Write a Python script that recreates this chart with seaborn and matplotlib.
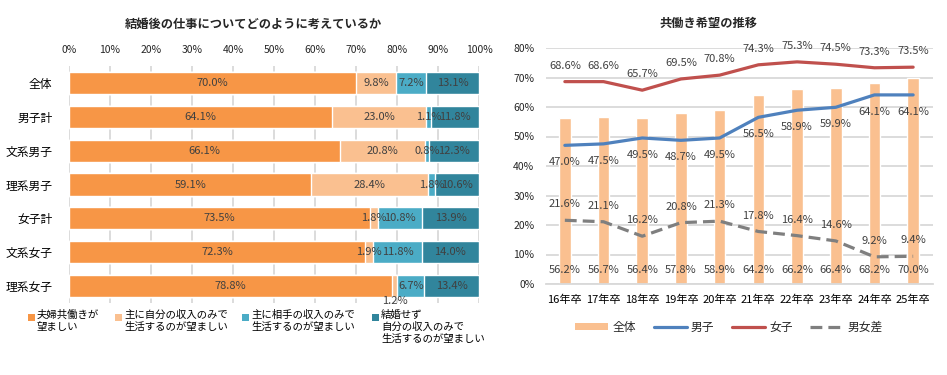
import numpy as np
import seaborn as sns
import matplotlib.pyplot as plt
from matplotlib.patches import Patch, Rectangle
from matplotlib.lines import Line2D
from matplotlib.ticker import PercentFormatter

sns.set_theme(style='white')
plt.rcParams['font.family'] = ['Noto Sans CJK JP', 'DejaVu Sans']

# 左：結婚後の仕事についてどのように考えているか
groups = ['全体', '男子計', '文系男子', '理系男子', '女子計', '文系女子', '理系女子']
tomobataraki = [70.0, 64.1, 66.1, 59.1, 73.5, 72.3, 78.8]
jibun_nomi = [9.8, 23.0, 20.8, 28.4, 1.8, 1.9, 1.2]
aite_nomi = [7.2, 1.1, 0.8, 1.8, 10.8, 11.8, 6.7]
kekkon_sezu = [13.1, 11.8, 12.3, 10.6, 13.9, 14.0, 13.4]
left_labels = ['夫婦共働きが\n望ましい',
               '主に自分の収入のみで\n生活するのが望ましい',
               '主に相手の収入のみで\n生活するのが望ましい',
               '結婚せず\n自分の収入のみで\n生活するのが望ましい']
left_colors = ['#F79646', '#FAC090', '#4BACC6', '#31859C']

# 右：共働き希望の推移
years = ['16年卒', '17年卒', '18年卒', '19年卒', '20年卒',
         '21年卒', '22年卒', '23年卒', '24年卒', '25年卒']
zentai = [56.2, 56.7, 56.4, 57.8, 58.9, 64.2, 66.2, 66.4, 68.2, 70.0]
danshi = [47.0, 47.5, 49.5, 48.7, 49.5, 56.5, 58.9, 59.9, 64.1, 64.1]
joshi = [68.6, 68.6, 65.7, 69.5, 70.8, 74.3, 75.3, 74.5, 73.3, 73.5]
danjo_sa = [21.6, 21.1, 16.2, 20.8, 21.3, 17.8, 16.4, 14.6, 9.2, 9.4]

W, H = 947, 375
fig = plt.figure(figsize=(W / 100, H / 100), dpi=100)
grid_c = '#D9D9D9'
txt_c = '#404040'

# ---------- 左のグラフ ----------
ax1 = fig.add_axes([69 / W, 1 - 303 / H, 410 / W, 237 / H])
series = np.array([tomobataraki, jibun_nomi, aite_nomi, kekkon_sezu])
cum = np.cumsum(series, axis=0)
for k in range(3, -1, -1):
    sns.barplot(x=cum[k], y=groups, orient='h', color=left_colors[k],
                width=0.65, saturation=1, ax=ax1, zorder=2)

for k in range(4):
    for i in range(len(groups)):
        v = series[k, i]
        xc = cum[k, i] - v / 2
        yc = i
        if groups[i] == '理系女子' and k == 1:
            yc = i + 0.45
        ax1.text(xc, yc, f'{v:.1f}%', ha='center', va='center',
                 fontsize=8, color=txt_c, zorder=5)

ax1.set_xlim(0, 100)
ax1.set_ylim(6.5, -0.5)
ax1.xaxis.tick_top()
ax1.set_xticks(range(0, 101, 10))
ax1.xaxis.set_major_formatter(PercentFormatter(100, decimals=0))
ax1.grid(axis='x', color=grid_c, lw=1.3, zorder=0)
ax1.set_axisbelow(True)
for s in ax1.spines.values():
    s.set_visible(False)
ax1.tick_params(axis='x', length=0, pad=8, labelsize=7.5, colors='#262626')
ax1.tick_params(axis='y', length=0, pad=12, labelsize=8.5, colors='#000000')
ax1.set_xlabel('')
ax1.set_ylabel('')

fig.text(253 / W, 1 - 24 / H, '結婚後の仕事についてどのように考えているか',
         ha='center', va='center', fontsize=8.8, fontweight='bold')

# 左の凡例
sq_x = [28, 115, 242, 372]
for k in range(4):
    fig.add_artist(Rectangle((sq_x[k] / W, 1 - 321 / H), 7 / W, 7 / H,
                             transform=fig.transFigure,
                             facecolor=left_colors[k], edgecolor='none'))
    fig.text((sq_x[k] + 9) / W, 1 - 310 / H, left_labels[k], ha='left',
             va='top', fontsize=7.5, linespacing=1.25, color='#000000')

# ---------- 右のグラフ ----------
ax2 = fig.add_axes([545.5 / W, 1 - 284 / H, 387 / W, 236 / H])
x = np.arange(len(years))
sns.barplot(x=years, y=zentai, color='#FAC090', width=0.3,
            saturation=1, ax=ax2, zorder=2)
sns.lineplot(x=x, y=danshi, color='#4F81BD', lw=2.3, ax=ax2, zorder=3)
sns.lineplot(x=x, y=joshi, color='#C0504D', lw=2.3, ax=ax2, zorder=3)
sns.lineplot(x=x, y=danjo_sa, color='#7F7F7F', lw=2.3,
             linestyle=(0, (3.7, 1.9)), ax=ax2, zorder=3)

for i in range(len(years)):
    ax2.annotate(f'{zentai[i]:.1f}%', (x[i], 0), xytext=(0, 10),
                 textcoords='offset points', ha='center', va='center',
                 fontsize=8, color=txt_c)
    ax2.annotate(f'{danshi[i]:.1f}%', (x[i], danshi[i]), xytext=(0, -12),
                 textcoords='offset points', ha='center', va='center',
                 fontsize=8, color=txt_c)
    ax2.annotate(f'{joshi[i]:.1f}%', (x[i], joshi[i]), xytext=(0, 11.5),
                 textcoords='offset points', ha='center', va='center',
                 fontsize=8, color=txt_c)
    ax2.annotate(f'{danjo_sa[i]:.1f}%', (x[i], danjo_sa[i]), xytext=(0, 11.5),
                 textcoords='offset points', ha='center', va='center',
                 fontsize=8, color=txt_c)

ax2.set_xlim(-0.5, len(years) - 0.5)
ax2.set_ylim(0, 80)
ax2.set_yticks(range(0, 81, 10))
ax2.yaxis.set_major_formatter(PercentFormatter(100, decimals=0))
ax2.grid(axis='y', color=grid_c, lw=1.3, zorder=0)
ax2.set_axisbelow(True)
for s in ['top', 'right', 'left']:
    ax2.spines[s].set_visible(False)
ax2.spines['bottom'].set_color(grid_c)
ax2.spines['bottom'].set_linewidth(1.3)
ax2.tick_params(length=0, labelsize=7.5, colors='#262626', pad=8)
ax2.tick_params(axis='x', pad=8, labelsize=8, colors='#000000')
ax2.set_xlabel('')
ax2.set_ylabel('')

fig.text(708 / W, 1 - 23 / H, '共働き希望の推移', ha='center', va='center',
         fontsize=8.8, fontweight='bold')

handles = [Patch(facecolor='#FAC090', edgecolor='none'),
           Line2D([], [], color='#4F81BD', lw=2.3),
           Line2D([], [], color='#C0504D', lw=2.3),
           Line2D([], [], color='#7F7F7F', lw=2.3, linestyle=(0, (3.7, 1.9)))]
fig.legend(handles, ['全体', '男子', '女子', '男女差'], loc='center',
           bbox_to_anchor=(729 / W, 1 - 327 / H), ncol=4, frameon=False,
           fontsize=8.5, handlelength=2.8, handleheight=0.6,
           columnspacing=1.5, handletextpad=0.35)

fig.savefig('out.png', dpi=100)
